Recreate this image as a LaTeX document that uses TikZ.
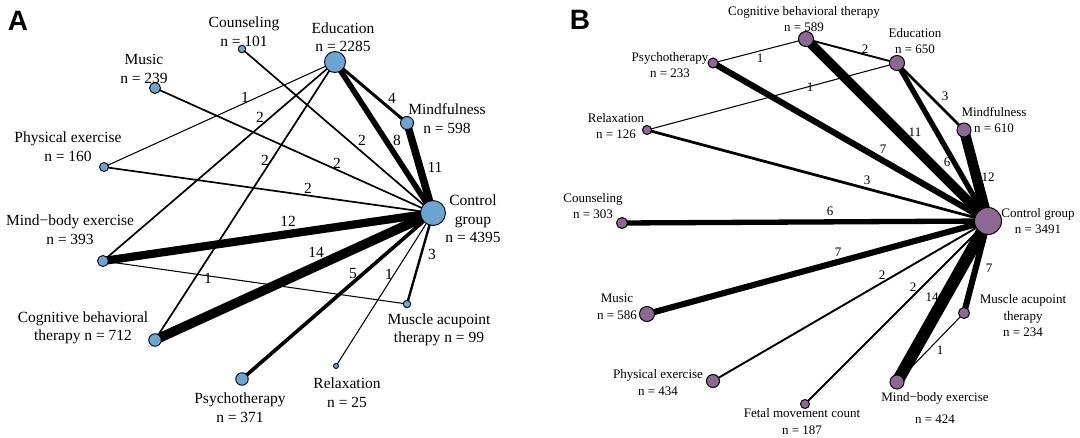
\documentclass[tikz,border=0pt]{standalone}
\usepackage{fontspec}
\setmainfont{Liberation Serif}
\newfontfamily\panelfont{Liberation Sans}
\usetikzlibrary{backgrounds}
\definecolor{nodeA}{RGB}{108,165,210}
\definecolor{nodeB}{RGB}{142,104,148}
\tikzset{
  ndA/.style={circle,draw=black,line width=0.9pt,fill=nodeA,inner sep=0pt,minimum size=#1},
  ndB/.style={circle,draw=black,line width=1pt,fill=nodeB,inner sep=0pt,minimum size=#1},
  txtA/.style={font=\fontsize{15.5}{18.5}\selectfont,inner sep=0pt,align=center},
  txtB/.style={font=\fontsize{13}{16.5}\selectfont,inner sep=0pt,align=center},
  eA/.style={draw=black,line width={(0.65*#1+0.4)*1pt}},
  eB/.style={draw=black,line width={(0.85*#1+0.2)*1pt}},
  panel/.style={font=\panelfont\bfseries\fontsize{28}{30}\selectfont,inner sep=0pt}
}
\begin{document}
\begin{tikzpicture}[x=1pt,y=-1pt]
\useasboundingbox (0,0) rectangle (1080,437);
% ---------------- Panel A nodes ----------------
\node[ndA=25]   (ctlA) at (433,213) {};
\node[ndA=21]   (eduA) at (335,62) {};
\node[ndA=13]   (minA) at (407,123) {};
\node[ndA=7.5]  (couA) at (242,49) {};
\node[ndA=11]   (musA) at (155,88) {};
\node[ndA=9]    (phyA) at (104,167) {};
\node[ndA=11]   (mbeA) at (103,261) {};
\node[ndA=12.5] (cbtA) at (155,340) {};
\node[ndA=12.5] (psyA) at (242,379) {};
\node[ndA=5]    (relA) at (336,366) {};
\node[ndA=7.5]  (macA) at (407,304) {};
% labels A
\node[panel] (letA) at (18,21) {A};
\node[txtA] (couAl) at (244,31.5) {Counseling\\n = 101};
\node[txtA] (eduAl) at (343,37) {Education\\n = 2285};
\node[txtA] (musAl) at (144,69) {Music\\n = 239};
\node[txtA] (minAl) at (447,118.5) {Mindfulness\\n = 598};
\node[txtA] (phyAl) at (68,146.5) {Physical exercise\\n = 160};
\node[txtA] (mbeAl) at (70,229.5) {Mind−body exercise\\n = 393};
\node[txtA] (cbtAl) at (83,328) {Cognitive behavioral\\therapy n = 712};
\node[txtA] (psyAl) at (240,407.5) {Psychotherapy\\n = 371};
\node[txtA] (relAl) at (347,392.5) {Relaxation\\n = 25};
\node[txtA] (macAl) at (439,330) {Muscle acupoint\\therapy n = 99};
\node[txtA] (ctlAl) at (473,219) {Control\\group\\n = 4395};
% edge labels A
\node[txtA] (nA1)  at (245,97) {1};
\node[txtA] (nA2)  at (260,117) {2};
\node[txtA] (nA3)  at (265,160) {2};
\node[txtA] (nA4)  at (362,140) {2};
\node[txtA] (nA5)  at (337,163) {2};
\node[txtA] (nA6)  at (308,188) {2};
\node[txtA] (nA7)  at (392,98) {4};
\node[txtA] (nA8)  at (397,140) {8};
\node[txtA] (nA9)  at (435,167) {11};
\node[txtA] (nA10) at (288,221) {12};
\node[txtA] (nA11) at (316,252) {14};
\node[txtA] (nA12) at (353,273) {5};
\node[txtA] (nA13) at (389,274) {1};
\node[txtA] (nA14) at (432,254) {3};
\node[txtA] (nA15) at (208,278) {1};
% ---------------- Panel B nodes ----------------
\node[ndB=27] (ctlB) at (988,221) {};
\node[ndB=15] (cbtB) at (806,39) {};
\node[ndB=15] (eduB) at (897,63) {};
\node[ndB=10] (psyB) at (713,63) {};
\node[ndB=9]  (relB) at (647,130) {};
\node[ndB=14] (minB) at (964,130) {};
\node[ndB=11] (couB) at (622,223) {};
\node[ndB=15] (musB) at (647,314) {};
\node[ndB=13] (phyB) at (713,381) {};
\node[ndB=9]  (fetB) at (805,404) {};
\node[ndB=14] (mbeB) at (897,382) {};
\node[ndB=11] (macB) at (964,313) {};
% labels B
\node[panel] (letB) at (580,20) {B};
\node[txtB] (cbtBl) at (804,19) {Cognitive behavioral therapy\\n = 589};
\node[txtB] (eduBl) at (915,41) {Education\\n = 650};
\node[txtB] (psyBl) at (670,65) {Psychotherapy\\n = 233};
\node[txtB] (relBl) at (616,126) {Relaxation\\n = 126};
\node[txtB] (couBl) at (593,206) {Counseling\\n = 303};
\node[txtB] (musBl) at (617,307) {Music\\n = 586};
\node[txtB] (phyBl) at (658,382.5) {Physical exercise\\n = 434};
\node[txtB] (fetBl) at (802,421.5) {Fetal movement count\\n = 187};
\node[txtB] (mbeBl) at (935,408) {Mind−body exercise\\[5pt]n = 424};
\node[txtB] (macBl) at (1023,316) {Muscle acupoint\\therapy\\n = 234};
\node[txtB] (minBl) at (994,120) {Mindfulness\\n = 610};
\node[txtB] (ctlBl) at (1038,221) {Control group\\n = 3491};
% edge labels B
\node[txtB] (nB1)  at (760,58) {1};
\node[txtB] (nB2)  at (865,49) {2};
\node[txtB] (nB3)  at (810,87) {1};
\node[txtB] (nB4)  at (945,96) {3};
\node[txtB] (nB5)  at (915,132) {11};
\node[txtB] (nB6)  at (883,149) {7};
\node[txtB] (nB7)  at (947,162) {6};
\node[txtB] (nB8)  at (988,177) {12};
\node[txtB] (nB9)  at (867,180) {3};
\node[txtB] (nB10) at (830,211) {6};
\node[txtB] (nB11) at (838,252) {7};
\node[txtB] (nB12) at (882,275) {2};
\node[txtB] (nB13) at (913,287) {2};
\node[txtB] (nB14) at (932,297) {14};
\node[txtB] (nB15) at (989,268) {7};
\node[txtB] (nB16) at (940,350) {1};
% ---------------- edges ----------------
\begin{scope}[on background layer]
\fill[white] (0,0) rectangle (1080,437);
% A
\draw[eA=2]  (couA.center) -- (ctlA.center);
\draw[eA=2]  (musA.center) -- (ctlA.center);
\draw[eA=1]  (phyA.center) -- (eduA.center);
\draw[eA=2]  (phyA.center) -- (ctlA.center);
\draw[eA=2]  (mbeA.center) -- (eduA.center);
\draw[eA=2]  (cbtA.center) -- (eduA.center);
\draw[eA=4]  (eduA.center) -- (minA.center);
\draw[eA=8]  (eduA.center) -- (ctlA.center);
\draw[eA=11] (minA.center) -- (ctlA.center);
\draw[eA=12] (mbeA.center) -- (ctlA.center);
\draw[eA=14] (cbtA.center) -- (ctlA.center);
\draw[eA=1]  (mbeA.center) -- (macA.center);
\draw[eA=5]  (psyA.center) -- (ctlA.center);
\draw[eA=1]  (relA.center) -- (ctlA.center);
\draw[eA=3]  (macA.center) -- (ctlA.center);
% B
\draw[eB=1]  (psyB.center) -- (cbtB.center);
\draw[eB=2]  (cbtB.center) -- (eduB.center);
\draw[eB=1]  (relB.center) -- (eduB.center);
\draw[eB=3]  (eduB.center) -- (minB.center);
\draw[eB=11] (cbtB.center) -- (ctlB.center);
\draw[eB=7]  (psyB.center) -- (ctlB.center);
\draw[eB=6]  (eduB.center) -- (ctlB.center);
\draw[eB=12] (minB.center) -- (ctlB.center);
\draw[eB=3]  (relB.center) -- (ctlB.center);
\draw[eB=6]  (couB.center) -- (ctlB.center);
\draw[eB=7]  (musB.center) -- (ctlB.center);
\draw[eB=2]  (phyB.center) -- (ctlB.center);
\draw[eB=2]  (fetB.center) -- (ctlB.center);
\draw[eB=14] (mbeB.center) -- (ctlB.center);
\draw[eB=7]  (macB.center) -- (ctlB.center);
\draw[eB=1]  (mbeB.center) -- (macB.center);
\end{scope}
\end{tikzpicture}
\end{document}
